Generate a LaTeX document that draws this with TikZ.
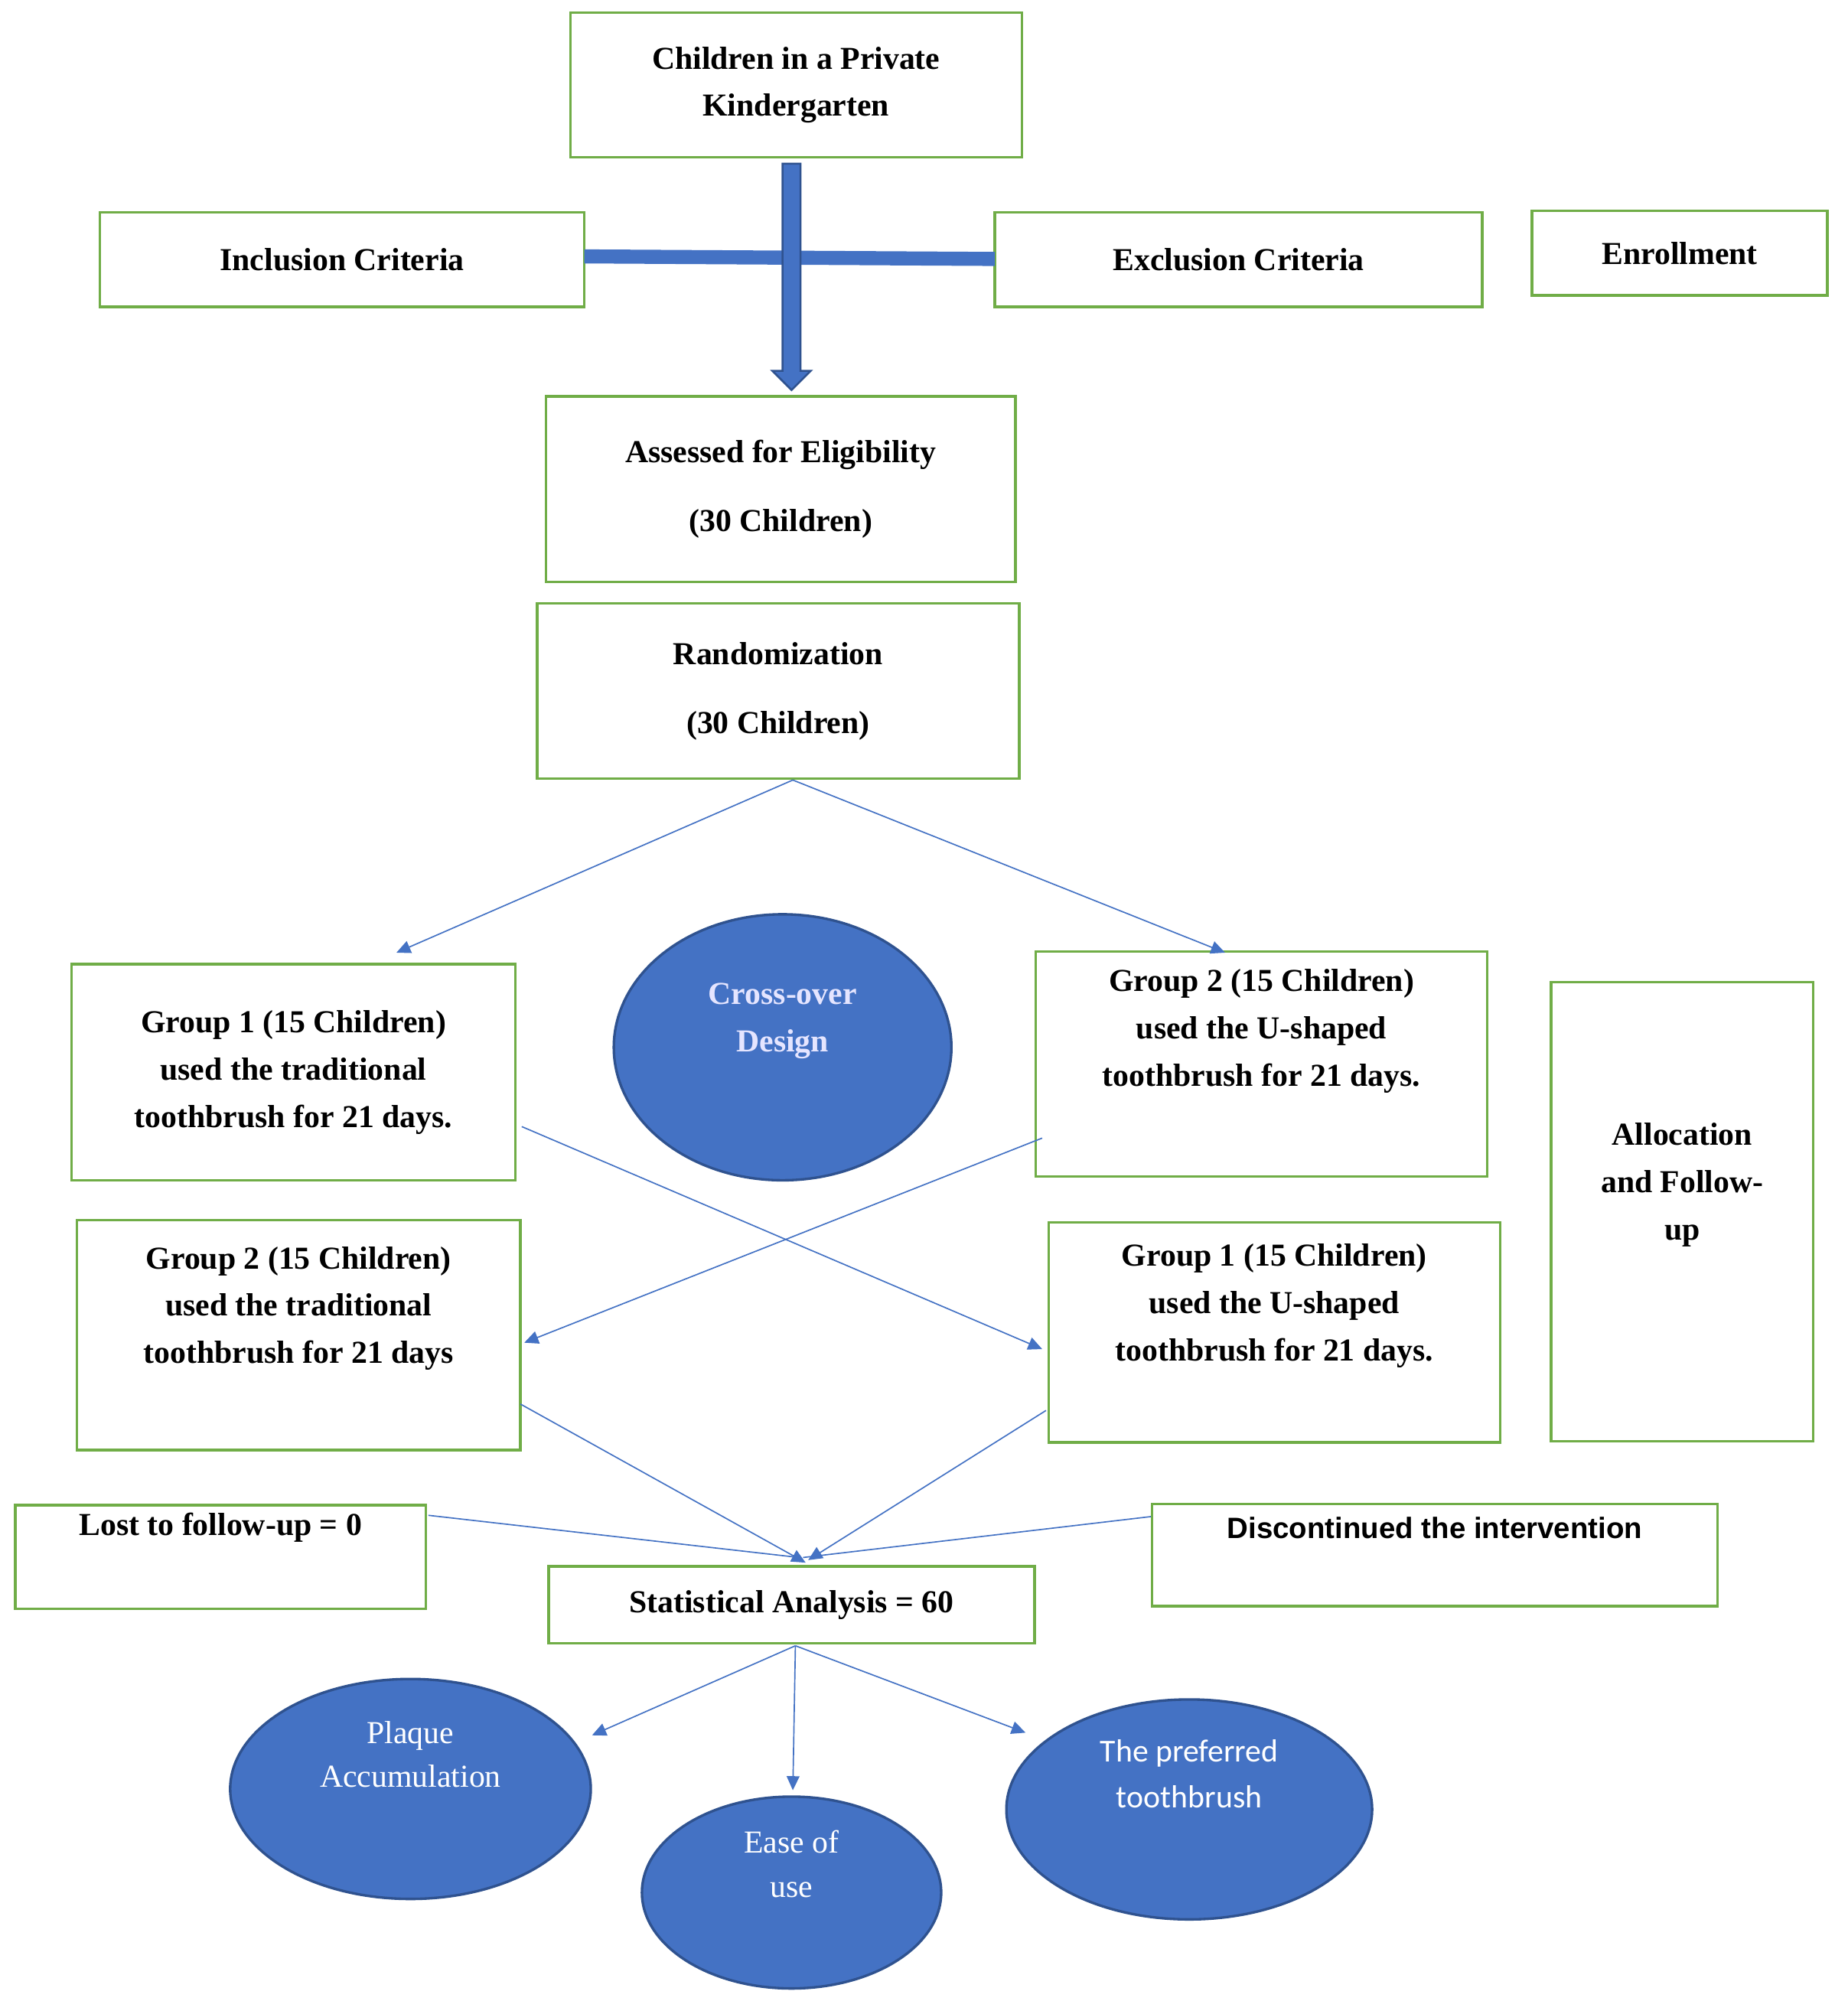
\documentclass[tikz,border=0pt]{standalone}
\usepackage{fontspec}
\setmainfont{Liberation Serif}
\newfontfamily\arialf{Liberation Sans}
\newfontfamily\carlf{Carlito}
\definecolor{gr}{HTML}{70AD47}
\definecolor{bl}{HTML}{4472C4}
\definecolor{dbl}{HTML}{2F528F}
\usetikzlibrary{arrows.meta}
\tikzset{
 gbox/.style={draw=gr,line width=2pt,align=center,font=\bfseries\fontsize{25}{37}\selectfont,inner sep=0pt},
 bell/.style={ellipse,draw=dbl,line width=2pt,fill=bl,align=center,inner sep=0pt},
 con/.style={draw=bl,line width=1pt,-{Triangle[length=11pt,width=10pt]}},
 lin/.style={draw=bl,line width=1pt}
}
\usetikzlibrary{shapes.geometric}
\begin{document}
\begin{tikzpicture}[x=1pt,y=-1pt]
\useasboundingbox[fill=white] (0,0) rectangle (1445,1575);
\newcommand{\gb}[6]{\node[gbox,minimum width=#4-#2,minimum height=#5-#3] (#1) at ({(#2+#4)/2},{(#3+#5)/2}) {#6};}
\gb{top}{446}{10}{799}{123}{Children in a Private\\Kindergarten}
\gb{inc}{78}{166}{457}{240}{Inclusion Criteria}
\gb{exc}{778}{166}{1159}{240}{Exclusion Criteria}
\gb{enr}{1198}{165}{1429}{231}{Enrollment}
% bar and block arrow
\fill[bl] (457,195) -- (778,197) -- (778,208) -- (457,206) -- cycle;
\draw[dbl,fill=bl,line width=1.5pt] (612,128) -- (626,128) -- (626,290) -- (634,290) -- (619,305) -- (604,290) -- (612,290) -- cycle;
\gb{ass}{427}{310}{794}{455}{Assessed for Eligibility\\[17pt](30 Children)}
\gb{ran}{420}{472}{797}{609}{Randomization\\[17pt](30 Children)}
\gb{g1l}{56}{754}{403}{923}{Group 1 (15 Children)\\used the traditional\\toothbrush for 21 days.}
\gb{g2r}{810}{744}{1163}{920}{Group 2 (15 Children)\\used the U-shaped\\toothbrush for 21 days.\\[20pt]}
\gb{alo}{1213}{768}{1418}{1127}{Allocation\\and Follow-\\up\\[10pt]}
\gb{g2l}{60}{954}{407}{1134}{Group 2 (15 Children)\\used the traditional\\toothbrush for 21 days\\[10pt]}
\gb{g1r}{820}{956}{1173}{1128}{Group 1 (15 Children)\\used the U-shaped\\toothbrush for 21 days.\\[10pt]}
\gb{lost}{12}{1177}{333}{1258}{Lost to follow-up = 0\\[14pt]}
\node[gbox,minimum width=442,minimum height=80,font=\arialf\bfseries\fontsize{23}{30}\selectfont] (dis) at (1122,1216) {Discontinued the intervention\\[12pt]};
\gb{sta}{429}{1225}{809}{1285}{Statistical Analysis = 60}
\node[bell,minimum width=264,minimum height=208,text=blue!10,font=\bfseries\fontsize{25}{37}\selectfont] (cro) at (612,819) {Cross-over\\Design\\[10pt]};
\node[bell,minimum width=282,minimum height=172,text=white,font=\fontsize{25}{34}\selectfont] (pla) at (321,1399) {Plaque\\Accumulation\\[20pt]};
\node[bell,minimum width=234,minimum height=150,text=white,font=\fontsize{25}{35}\selectfont] (eas) at (619,1480) {Ease of\\use\\[10pt]};
\node[bell,minimum width=286,minimum height=172,text=white,font=\carlf\fontsize{25}{36}\selectfont] (pre) at (930,1415) {The preferred\\toothbrush\\[20pt]};
% connectors
\coordinate (rb) at (620,610);
\coordinate (a1) at (310,745); \coordinate (a2) at (958,745);
\draw[con] (rb) -- (a1);
\draw[con] (rb) -- (a2);
\coordinate (c1s) at (408,881); \coordinate (c1e) at (815,1055);
\coordinate (c2s) at (815,890); \coordinate (c2e) at (410,1050);
\draw[con] (c1s) -- (c1e);
\draw[con] (c2s) -- (c2e);
\coordinate (d1s) at (407,1098); \coordinate (d1e) at (630,1222);
\coordinate (d2s) at (818,1103); \coordinate (d2e) at (632,1220);
\draw[con] (d1s) -- (d1e);
\draw[con] (d2s) -- (d2e);
\coordinate (l1) at (335,1185); \coordinate (l1e) at (625,1218);
\coordinate (l2) at (900,1186); \coordinate (l2e) at (628,1218);
\draw[lin] (l1) -- (l1e);
\draw[lin] (l2) -- (l2e);
\coordinate (sb) at (622,1287);
\coordinate (e1) at (463,1357); \coordinate (e2) at (620,1400); \coordinate (e3) at (802,1355);
\draw[con] (sb) -- (e1);
\draw[con] (sb) -- (e2);
\draw[con] (sb) -- (e3);
\end{tikzpicture}
\end{document}
